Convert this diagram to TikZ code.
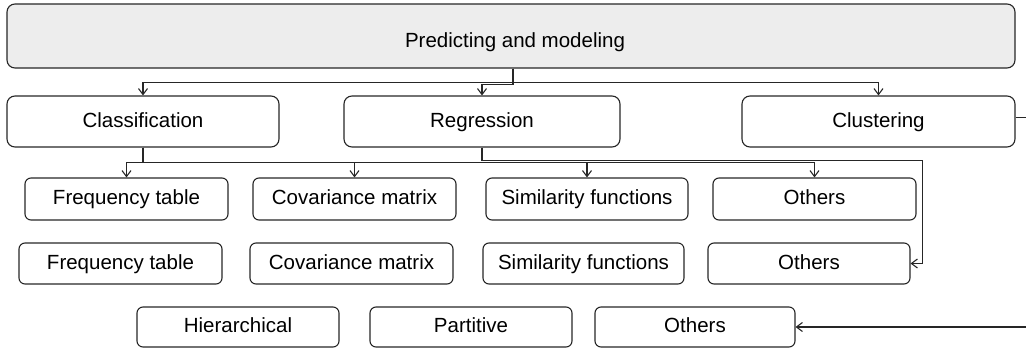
\documentclass[tikz,border=0pt]{standalone}
\usepackage{fontspec}
\setmainfont{Liberation Sans}
\usetikzlibrary{arrows.meta}
\begin{document}
\begin{tikzpicture}[x=1pt,y=-1pt,
  txt/.style={inner sep=0pt, text height=15pt, text depth=4pt,
    font=\fontsize{20.5}{24}\selectfont},
  box/.style={txt, draw=black!85, line width=1.1pt, rounded corners=6pt},
  wide/.style={box, minimum height=51pt, rounded corners=8pt},
  leaf/.style={box, minimum width=203pt, minimum height=41pt},
  link/.style={draw=black!85, line width=1.1pt,
    -{Straight Barb[length=6pt,width=9pt]}}]
\useasboundingbox (0,0) rectangle (1026,348);
\clip (0,0) rectangle (1026,348);

% root
\node[box, fill=black!7, minimum width=1008pt, minimum height=64pt,
  rounded corners=8pt] (top) at (511,36) {};
\node[txt] (toplbl) at (515,41.5) {Predicting and modeling};

% second level
\node[wide, minimum width=272pt] (cls) at (143,121.5) {Classification};
\node[wide, minimum width=276pt] (reg) at (482,121.5) {Regression};
\node[wide, minimum width=273pt] (clu) at (878.5,121.5) {Clustering};

% third row
\node[leaf, minimum height=42pt] (f1) at (126.5,199) {Frequency table};
\node[leaf, minimum height=42pt] (c1) at (354.5,199) {Covariance matrix};
\node[leaf, minimum height=42pt, minimum width=202pt] (s1) at (587,199) {Similarity functions};
\node[leaf, minimum height=42pt] (o1) at (814.5,199) {Others};

% fourth row
\node[leaf] (f2) at (120.5,263.5) {Frequency table};
\node[leaf] (c2) at (351.5,263.5) {Covariance matrix};
\node[leaf, minimum width=201pt] (s2) at (583.5,263.5) {Similarity functions};
\node[leaf, minimum width=202pt] (o2) at (809,263.5) {Others};

% fifth row
\node[leaf, minimum width=202pt, minimum height=40pt] (h3) at (238,327) {Hierarchical};
\node[leaf, minimum width=202pt, minimum height=40pt] (p3) at (471,327) {Partitive};
\node[leaf, minimum width=200pt, minimum height=40pt] (o3) at (695,327) {Others};

% connectors
\coordinate (split) at (513,0);
\draw[link] (top.south -| split) -- ++(0,14) -| (cls.north);
\draw[link] (top.south -| split) -- ++(0,15.5) -| (reg.north);
\draw[link] (top.south -| split) -- ++(0,14) -| (clu.north);

\draw[link] (cls.south) -- ++(0,15) -| (f1.north);
\draw[link] (cls.south) -- ++(0,15) -| (c1.north);
\draw[link] (cls.south) -- ++(0,15) -| (s1.north);
\draw[link] (cls.south) -- ++(0,15) -| (o1.north);

\draw[link] (reg.south) -- ++(0,13) -| ([xshift=12pt]o2.east) -- (o2.east);
\draw[link] ([yshift=4pt]clu.east) -- ++(30,0) |- (o3.east);
\end{tikzpicture}
\end{document}
